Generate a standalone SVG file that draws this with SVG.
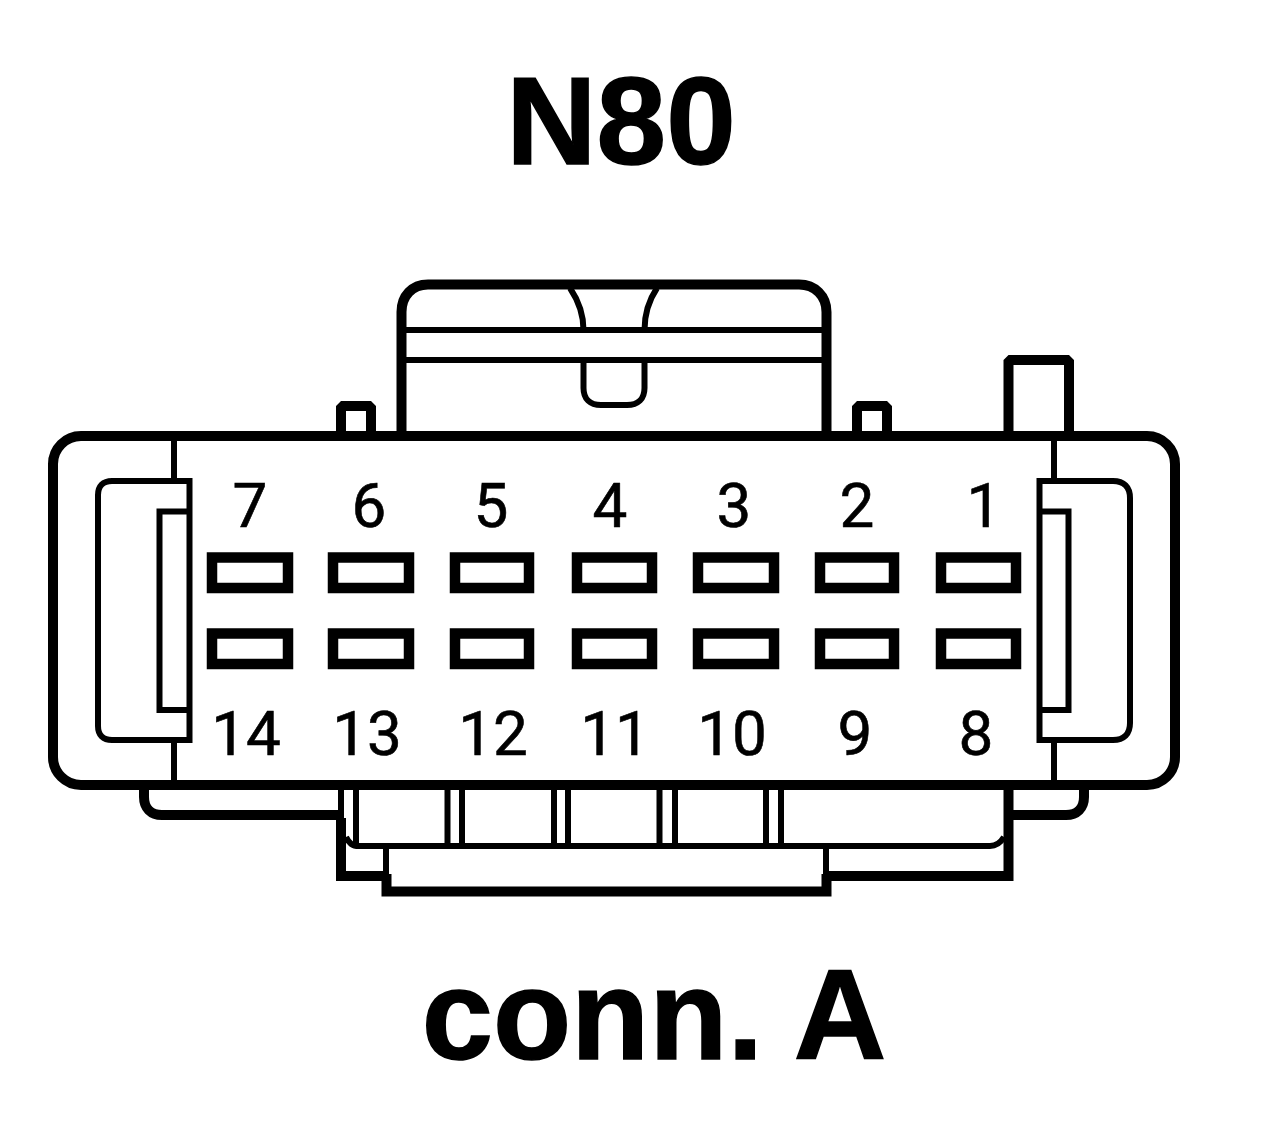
<svg xmlns="http://www.w3.org/2000/svg" width="1264" height="1146" viewBox="0 0 1264 1146">
<style>
.l{fill:none;stroke:#000;stroke-linejoin:miter}
.b{stroke-linejoin:bevel}
.s10{stroke-width:10}.s6{stroke-width:6}
.slot{fill:#fff;stroke:#000;stroke-width:10.5}
text{fill:#000;text-anchor:middle}
.n{font-family:Roboto,"Liberation Sans",sans-serif;font-size:62px;stroke:#000;stroke-width:0.600px}
.t{font-family:"Liberation Sans",Arial,sans-serif;font-size:125px;font-weight:bold;stroke:#000;stroke-width:1.500px}
</style>
<rect width="1264" height="1146" fill="#fff"/>
<text id="title" class="t" x="621" y="164">N80</text>
<text id="label" class="t" x="654" y="1059" style="font-size:128px">conn. A</text>
<g id="latch">
<path class="l s10" d="M401.500 436V312C401.500 296 412 284.500 428 284.500H799C815 284.500 826.500 296 826.500 312V436"/>
<path class="l s6" d="M405 330H823M405 360H823"/>
<path class="l s6" d="M570 288C578 300 583.500 314 583.500 330M657 288C649 300 644.500 314 644.500 330"/>
<path class="l s6" d="M583.500 360V388C583.500 399 590 405 601 405H627C638 405 644.500 399 644.500 388V360"/>
</g>
<g id="tabs">
<path class="l s10 b" d="M341 436V406H371V436M857 436V406H887V436"/>
<path class="l s10 b" d="M1008.500 436V360H1069V436"/>
</g>
<g id="lower">
<path class="l s10" d="M144 788V797C144 808 151 815 162 815H342"/>
<path class="l s10" d="M1084 788V797C1084 808 1077 815 1066 815H1008"/>
<path class="l s6" d="M341 788V825"/>
<path class="l s10" d="M341 818V876H386M1008.500 788V876H826"/>
<path class="l s6" d="M346 837C349 843 352 846 359 846H990C997 846 1001 842 1004 837"/>
<path class="l s6" d="M386 848V878M826 848V878"/>
<path class="l s10" d="M386.500 874V891.500H826.500V874"/>
<path class="l s6" d="M356 788V846M447.500 788V846M462 788V846M554 788V846M568 788V846M659.500 788V846M675 788V846M766 788V846M781 788V846"/>
</g>
<g id="body">
<rect class="l s10" x="53" y="436" width="1122" height="349" rx="28" fill="#fff"/>
<path class="l s6" d="M174 436V480M174 741V785M1054 436V480M1054 741V785"/>
</g>
<g id="clip-left">
<path class="l s6" d="M189.500 481H112C103 481 98 486 98 495V726C98 735 103 740 112 740H189.500ZM189.500 511.500H159.500V710H189.500"/>
</g>
<g id="clip-right">
<path class="l s6" d="M1039.500 481H1113C1124 481 1130 487 1130 498V723C1130 734 1124 740 1113 740H1039.500ZM1039.500 511.500H1068.500V710H1039.500"/>
</g>
<g id="pins-top">
<rect class="slot" x="212" y="557.500" width="76" height="30.500"/>
<rect class="slot" x="333" y="557.500" width="76" height="30.500"/>
<rect class="slot" x="455" y="557.500" width="74" height="30.500"/>
<rect class="slot" x="577" y="557.500" width="75" height="30.500"/>
<rect class="slot" x="698" y="557.500" width="76" height="30.500"/>
<rect class="slot" x="820" y="557.500" width="74" height="30.500"/>
<rect class="slot" x="941" y="557.500" width="75" height="30.500"/>
</g>
<g id="pins-bottom">
<rect class="slot" x="212" y="633.500" width="76" height="30.500"/>
<rect class="slot" x="333" y="633.500" width="76" height="30.500"/>
<rect class="slot" x="455" y="633.500" width="74" height="30.500"/>
<rect class="slot" x="577" y="633.500" width="75" height="30.500"/>
<rect class="slot" x="698" y="633.500" width="76" height="30.500"/>
<rect class="slot" x="820" y="633.500" width="74" height="30.500"/>
<rect class="slot" x="941" y="633.500" width="75" height="30.500"/>
</g>
<g id="pin-numbers">
<text class="n" x="250" y="527">7</text>
<text class="n" x="369" y="527">6</text>
<text class="n" x="491" y="527">5</text>
<text class="n" x="610" y="527">4</text>
<text class="n" x="734" y="527">3</text>
<text class="n" x="857" y="527">2</text>
<text class="n" x="984" y="527">1</text>
<text class="n" x="246" y="755">14</text>
<text class="n" x="367" y="755">13</text>
<text class="n" x="493" y="755">12</text>
<text class="n" x="615" y="755">11</text>
<text class="n" x="732" y="755">10</text>
<text class="n" x="855" y="755">9</text>
<text class="n" x="976" y="755">8</text>
</g>
</svg>
